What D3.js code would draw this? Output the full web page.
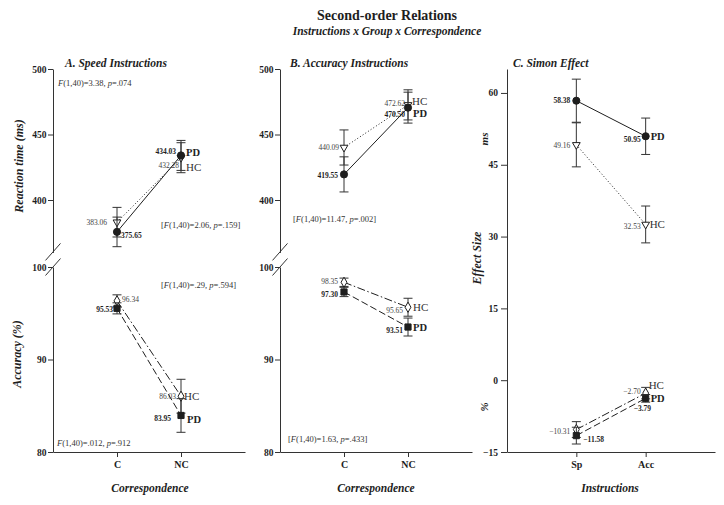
<!DOCTYPE html>
<html><head><meta charset="utf-8">
<script src="https://cdn.jsdelivr.net/npm/d3@7"></script>
<style>
body{margin:0;background:#fff}
svg{display:block}
text{font-family:"Liberation Serif","Times New Roman",serif}
</style>
</head><body>
<svg id="c" width="724" height="505"></svg>
<script>
// ---------------- DATA ----------------
const correspondence = ["C", "NC"];
const instructions = ["Sp", "Acc"];

const rtTicks = [400, 450, 500];
const accTicks = [80, 90, 100];
const simonTicks = [-15, 0, 15, 30, 45, 60];

// A. Speed instructions
const speedRtPD = [375.65, 434.03];
const speedRtPDse = [11.3, 11.45];
const speedRtHC = [383.06, 432.28];
const speedRtHCse = [11.3, 11.45];
const speedAccPD = [95.53, 83.95];
const speedAccPDse = [0.6, 1.82];
const speedAccHC = [96.34, 86.03];
const speedAccHCse = [0.65, 1.83];

// B. Accuracy instructions
const accRtPD = [419.55, 470.50];
const accRtPDse = [13.4, 11.8];
const accRtHC = [440.09, 472.62];
const accRtHCse = [13.4, 11.5];
const accAccPD = [97.30, 93.51];
const accAccPDse = [0.5, 0.97];
const accAccHC = [98.35, 95.65];
const accAccHCse = [0.45, 0.97];

// C. Simon effect
const simonMsPD = [58.38, 50.95];
const simonMsPDse = [4.5, 3.8];
const simonMsHC = [49.16, 32.53];
const simonMsHCse = [4.6, 3.85];
const simonPctPD = [-11.58, -3.79];
const simonPctPDse = [1.75, 0.8];
const simonPctHC = [-10.31, -2.70];
const simonPctHCse = [1.65, 1.2];

// statistics annotations: [F, p, bracketed]
const statA1 = ["3.38", ".074", false];
const statA2 = ["2.06", ".159", true];
const statA3 = [".29", ".594", true];
const statA4 = [".012", ".912", false];
const statB1 = ["11.47", ".002", true];
const statB2 = ["1.63", ".433", true];

// ---------------- DRAWING ----------------
const svg = d3.select("#c");
const INK = "#1e1e1e";
const fmt = d3.format(".2f");

// scales
const xA = d3.scalePoint().domain(correspondence).range([53, 245]).padding(1);
const xB = d3.scalePoint().domain(correspondence).range([280, 472]).padding(1);
const xC = d3.scalePoint().domain(instructions).range([507, 715]).padding(1);
const yRt = d3.scaleLinear().domain([360, 500]).range([252.4, 69]);
const yAcc = d3.scaleLinear().domain([80, 100]).range([452, 267]);
const ySim = d3.scaleLinear().domain([-15, 65]).range([452, 69]);

function styleAxis(a, fs) {
  a.selectAll("path,line").attr("stroke", "#333").attr("stroke-width", 1);
  a.selectAll("text").attr("font-size", fs).attr("font-weight", "bold")
    .attr("fill", INK).attr("font-family", '"Liberation Serif","Times New Roman",serif');
}
function yAxis(x0, scale, ticks, size, pad) {
  const a = svg.append("g").attr("transform", `translate(${x0},0)`)
    .call(d3.axisLeft(scale).tickValues(ticks).tickSize(size).tickSizeOuter(0).tickPadding(pad));
  styleAxis(a, 9.5);
}
function xAxis(scale, y0) {
  const a = svg.append("g").attr("transform", `translate(0,${y0})`)
    .call(d3.axisBottom(scale).tickSize(5).tickSizeOuter(0).tickPadding(4));
  styleAxis(a, 10);
}
function breakMarks(x0) {
  [yRt(360) - 0.5, yAcc(100)].forEach(yy => {
    svg.append("line").attr("x1", x0 - 7.5).attr("y1", yy + 8.5)
      .attr("x2", x0 + 7.5).attr("y2", yy - 8.5)
      .attr("stroke", "#333").attr("stroke-width", 1);
  });
}

// axes
yAxis(53, yRt, rtTicks, 5, 1.5);
yAxis(53, yAcc, accTicks, 5, 1.5);
yAxis(280, yRt, rtTicks, 5, 1.5);
yAxis(280, yAcc, accTicks, 5, 1.5);
yAxis(507, ySim, simonTicks, 6, 3);
breakMarks(53);
breakMarks(280);
xAxis(xA, 452);
xAxis(xB, 452);
xAxis(xC, 452);

// symbols
function marker(g, type, cx, cy) {
  let sym, size, fill, rot = 0;
  if (type === "circle") { sym = d3.symbolCircle; size = 40; fill = INK; }
  else if (type === "square") { sym = d3.symbolSquare; size = 38; fill = INK; }
  else if (type === "tri") { sym = d3.symbolTriangle; size = 26; fill = "#fff"; rot = 180; }
  else { sym = d3.symbolDiamond; size = 30; fill = "#fff"; }
  g.append("path").attr("d", d3.symbol(sym, size)())
    .attr("transform", `translate(${cx},${cy}) rotate(${rot})`)
    .attr("fill", fill).attr("stroke", INK).attr("stroke-width", 1);
}

function series(x, y, cats, vals, se, opt) {
  const g = svg.append("g");
  // error bars
  cats.forEach((c, i) => {
    const cx = x(c), y1 = y(vals[i] - se[i]), y2 = y(vals[i] + se[i]);
    g.append("line").attr("x1", cx).attr("x2", cx).attr("y1", y1).attr("y2", y2)
      .attr("stroke", "#333").attr("stroke-width", 1);
    [y1, y2].forEach(yy => g.append("line").attr("x1", cx - 4.5).attr("x2", cx + 4.5)
      .attr("y1", yy).attr("y2", yy).attr("stroke", "#333").attr("stroke-width", 1));
  });
  // connecting line
  const pts = cats.map((c, i) => [x(c), y(vals[i])]);
  g.append("path").attr("d", d3.line()(pts)).attr("fill", "none")
    .attr("stroke", INK).attr("stroke-width", 1)
    .attr("stroke-dasharray", opt.dash || null);
  return { g, pts };
}

function decorate(s, vals, opt) {
  const { g, pts } = s;
  pts.forEach((p, i) => marker(g, opt.marker, p[0], p[1]));
  pts.forEach((p, i) => {
    const L = opt.labels[i];
    g.append("text").attr("x", p[0] + L[0]).attr("y", p[1] + L[1])
      .attr("text-anchor", L[2] || "end").attr("font-size", 7.5)
      .attr("font-weight", opt.bold ? "bold" : "normal")
      .attr("fill", opt.bold ? INK : "#444").text(fmt(vals[i]));
  });
  const last = pts[pts.length - 1];
  g.append("text").attr("x", last[0] + opt.name[1]).attr("y", last[1] + opt.name[2])
    .attr("font-size", opt.bold ? 10.5 : 11).attr("font-weight", opt.bold ? "bold" : "normal")
    .attr("fill", opt.bold ? INK : "#333").text(opt.name[0]);
}

const DOT = "1,2.2", DASH = "7,3", DASHDOT = "8,2.5,1.5,2.5";

function pair(x, y, cats, pd, pdse, hc, hcse, pdOpt, hcOpt) {
  const s1 = series(x, y, cats, hc, hcse, hcOpt);
  const s2 = series(x, y, cats, pd, pdse, pdOpt);
  decorate(s1, hc, hcOpt);
  decorate(s2, pd, pdOpt);
}

// Panel A
pair(xA, yRt, correspondence, speedRtPD, speedRtPDse, speedRtHC, speedRtHCse,
  { marker: "circle", bold: true, labels: [[4, 6, "start"], [-5, -1]], name: ["PD", 5, 1] },
  { marker: "tri", dash: DOT, labels: [[-10, 3], [-2, 10]], name: ["HC", 5, 13] });
pair(xA, yAcc, correspondence, speedAccPD, speedAccPDse, speedAccHC, speedAccHCse,
  { marker: "square", dash: DASH, bold: true, labels: [[-4, 4], [-10, 6]], name: ["PD", 6, 8] },
  { marker: "diamond", dash: DASHDOT, labels: [[5, 1, "start"], [-5, 3]], name: ["HC", 3, 4] });

// Panel B
pair(xB, yRt, correspondence, accRtPD, accRtPDse, accRtHC, accRtHCse,
  { marker: "circle", bold: true, labels: [[-6, 4], [-3, 9]], name: ["PD", 5, 9] },
  { marker: "tri", dash: DOT, labels: [[-5, 3], [-3, 1]], name: ["HC", 4, 0] });
pair(xB, yAcc, correspondence, accAccPD, accAccPDse, accAccHC, accAccHCse,
  { marker: "square", dash: DASH, bold: true, labels: [[-6, 5], [-5, 6]], name: ["PD", 5, 4] },
  { marker: "diamond", dash: DASHDOT, labels: [[-6, 2], [-5, 6]], name: ["HC", 5, 4] });

// Panel C
pair(xC, ySim, instructions, simonMsPD, simonMsPDse, simonMsHC, simonMsHCse,
  { marker: "circle", bold: true, labels: [[-6, 2], [-5, 6]], name: ["PD", 5, 4] },
  { marker: "tri", dash: DOT, labels: [[-6, 3], [-5, 5]], name: ["HC", 4, 4] });
pair(xC, ySim, instructions, simonPctPD, simonPctPDse, simonPctHC, simonPctHCse,
  { marker: "square", dash: DASH, bold: true, labels: [[7, 6, "start"], [-12, 13, "start"]], name: ["PD", 5, 4] },
  { marker: "diamond", dash: DASHDOT, labels: [[-6, 4], [-5, 1]], name: ["HC", 3, -4] });

// statistics text
function stat(x, y, s) {
  const t = svg.append("text").attr("x", x).attr("y", y).attr("font-size", 8.5).attr("fill", "#333");
  if (s[2]) t.append("tspan").text("[");
  t.append("tspan").attr("font-style", "italic").text("F");
  t.append("tspan").text(`(1,40)=${s[0]}, `);
  t.append("tspan").attr("font-style", "italic").text("p");
  t.append("tspan").text(`=${s[1]}`);
  if (s[2]) t.append("tspan").text("]");
}
stat(58, 86, statA1);
stat(161, 228, statA2);
stat(161, 288, statA3);
stat(57, 446, statA4);
stat(293, 222, statB1);
stat(288, 442, statB2);

// titles
function txt(x, y, s, fs, opts = {}) {
  const t = svg.append("text").attr("x", x).attr("y", y).attr("font-size", fs)
    .attr("font-weight", opts.weight || "bold").attr("font-style", opts.style || "italic")
    .attr("text-anchor", opts.anchor || "middle").attr("fill", INK).text(s);
  if (opts.rot) t.attr("transform", `rotate(-90,${x},${y})`);
  return t;
}
txt(387, 20, "Second-order Relations", 14, { style: "normal" });
txt(387, 35, "Instructions x Group x Correspondence", 11.5);
txt(65, 67, "A. Speed Instructions", 11.5, { anchor: "start" });
txt(290, 67, "B. Accuracy Instructions", 11.5, { anchor: "start" });
txt(513, 67, "C. Simon Effect", 11.5, { anchor: "start" });

txt(23, 166, "Reaction time (ms)", 12, { rot: true });
txt(21, 354, "Accuracy (%)", 12, { rot: true });
txt(488, 139, "ms", 11, { rot: true });
txt(481, 258, "Effect Size", 12, { rot: true });
txt(488, 407, "%", 11, { rot: true });

txt(150, 492, "Correspondence", 11.5);
txt(376, 492, "Correspondence", 11.5);
txt(610, 492, "Instructions", 11.5);
</script>
</body></html>
